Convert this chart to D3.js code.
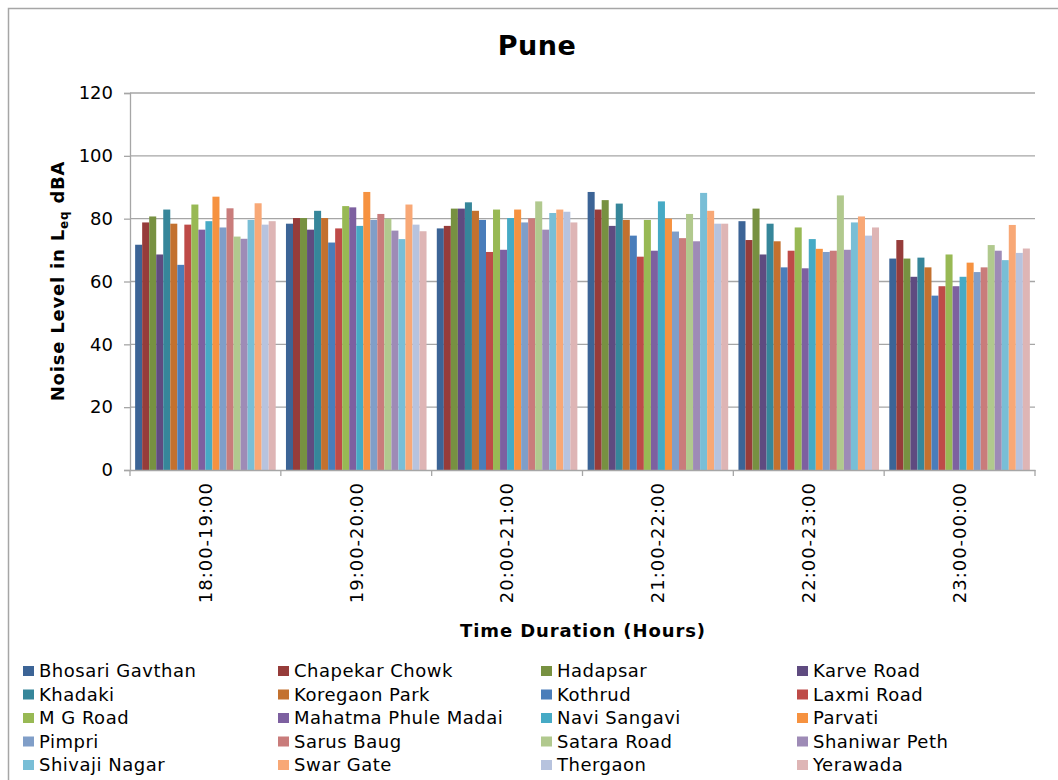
<!DOCTYPE html>
<html>
<head>
<meta charset="utf-8">
<script src="https://cdn.jsdelivr.net/npm/d3@7"></script>
<style>
  body { margin: 0; background: #fff; }
  text { font-family: "DejaVu Sans", Verdana, sans-serif; fill: #000; }
</style>
</head>
<body>
<div id="chart"></div>
<script>
// Data
const periods = ["18:00-19:00", "19:00-20:00", "20:00-21:00", "21:00-22:00", "22:00-23:00", "23:00-00:00"];
const sites = ["Bhosari Gavthan", "Chapekar Chowk", "Hadapsar", "Karve Road", "Khadaki", "Koregaon Park",
  "Kothrud", "Laxmi Road", "M G Road", "Mahatma Phule Madai", "Navi Sangavi", "Parvati",
  "Pimpri", "Sarus Baug", "Satara Road", "Shaniwar Peth", "Shivaji Nagar", "Swar Gate", "Thergaon", "Yerawada"];
const colors = ["#3c6496", "#963c3a", "#779141", "#5f4b80", "#36869a", "#c3712f",
  "#4a7dba", "#be4b48", "#98b954", "#7d60a0", "#46aac5", "#f69240",
  "#809ec8", "#c97c7b", "#b1c98e", "#9e8bb6", "#79bed6", "#f8a876", "#b7c3de", "#deb5b5"];
// one array per time period, in the order of sites
const p1 = [71.7, 78.8, 80.7, 68.6, 82.9, 78.4, 65.3, 78.1, 84.5, 76.5, 79.2, 87.0, 77.2, 83.3, 74.3, 73.6, 79.6, 84.9, 78.1, 79.2];
const p2 = [78.4, 80.2, 80.2, 76.5, 82.5, 80.2, 72.4, 76.9, 84.0, 83.6, 77.7, 88.5, 79.6, 81.5, 80.0, 76.2, 73.5, 84.5, 78.1, 76.0];
const p3 = [76.9, 77.7, 83.2, 83.2, 85.2, 82.5, 79.6, 69.4, 82.9, 70.1, 80.2, 82.9, 78.8, 80.1, 85.5, 76.5, 81.8, 82.9, 82.2, 78.8];
const p4 = [88.5, 82.9, 85.9, 77.7, 84.8, 79.6, 74.6, 67.9, 79.6, 69.8, 85.5, 80.0, 75.9, 73.8, 81.5, 72.8, 88.2, 82.5, 78.4, 78.4];
const p5 = [79.2, 73.2, 83.2, 68.6, 78.4, 72.8, 64.5, 69.8, 77.2, 64.2, 73.5, 70.4, 69.4, 69.8, 87.4, 70.1, 78.8, 80.7, 74.6, 77.2];
const p6 = [67.3, 73.2, 67.3, 61.5, 67.6, 64.5, 55.5, 58.5, 68.6, 58.5, 61.5, 66.0, 63.0, 64.5, 71.6, 69.8, 66.8, 78.0, 69.1, 70.5];
const values = [p1, p2, p3, p4, p5, p6];
const yTicks = [0, 20, 40, 60, 80, 100, 120];

const width = 1058, height = 780;
const plotLeft = 130, plotRight = 1035, plotTop = 93, plotBottom = 470;

const svg = d3.select("#chart").append("svg")
  .attr("width", width)
  .attr("height", height);

// chart border
svg.append("rect")
  .attr("x", 8.5).attr("y", 8.5)
  .attr("width", 1100).attr("height", 900)
  .attr("fill", "none").attr("stroke", "#a6a6a6").attr("stroke-width", 1.5);

// Scales
const x0 = d3.scaleBand().domain(periods).range([plotLeft, plotRight]).paddingInner(0).paddingOuter(0);
const x1 = d3.scaleBand().domain(sites).range([0, x0.bandwidth()]).paddingInner(0).paddingOuter(0.73);
const y = d3.scaleLinear().domain([0, 120]).range([plotBottom, plotTop]);

// Gridlines
svg.append("g")
  .selectAll("line")
  .data(yTicks.slice(1))
  .join("line")
  .attr("x1", plotLeft).attr("x2", plotRight)
  .attr("y1", d => y(d)).attr("y2", d => y(d))
  .attr("stroke", "#a6a6a6").attr("stroke-width", 1.3);

// Bars
svg.append("g")
  .selectAll("g")
  .data(values)
  .join("g")
  .attr("transform", (d, i) => `translate(${x0(periods[i])},0)`)
  .selectAll("rect")
  .data(d => d)
  .join("rect")
  .attr("x", (d, j) => x1(sites[j]))
  .attr("y", d => y(d))
  .attr("width", x1.bandwidth())
  .attr("height", d => y(0) - y(d))
  .attr("fill", (d, j) => colors[j]);

// Y Axis
const yAxis = svg.append("g")
  .attr("transform", `translate(${plotLeft},0)`)
  .call(d3.axisLeft(y).tickValues(yTicks).tickSize(6).tickPadding(11));
yAxis.select(".domain").attr("stroke", "#a6a6a6").attr("stroke-width", 1.3);
yAxis.selectAll(".tick line").attr("stroke", "#a6a6a6").attr("stroke-width", 1.3);
yAxis.selectAll("text").style("font-size", "18px").attr("fill", "#000");

// X Axis
const xAxis = svg.append("g")
  .attr("transform", `translate(0,${plotBottom})`)
  .call(d3.axisBottom(x0).tickSize(0).tickSizeOuter(0));
xAxis.select(".domain").attr("stroke", "#a6a6a6").attr("stroke-width", 1.3);
svg.append("g")
  .selectAll("line")
  .data(periods.concat(["end"]))
  .join("line")
  .attr("x1", (d, i) => i < periods.length ? x0(d) : plotRight)
  .attr("x2", (d, i) => i < periods.length ? x0(d) : plotRight)
  .attr("y1", plotBottom).attr("y2", plotBottom + 6)
  .attr("stroke", "#a6a6a6").attr("stroke-width", 1.3);
xAxis.selectAll("text")
  .style("font-size", "18px")
  .style("letter-spacing", "1px")
  .attr("fill", "#000")
  .attr("transform", "rotate(-90)")
  .attr("x", -12)
  .attr("y", 0)
  .attr("dy", "0.35em")
  .style("text-anchor", "end");

// Title
svg.append("text")
  .attr("x", 537).attr("y", 55)
  .attr("text-anchor", "middle")
  .style("font-size", "27px").style("font-weight", "bold")
  .style("letter-spacing", "0.5px")
  .text("Pune");

// Axis titles
const yt = svg.append("text")
  .attr("transform", `translate(64,281) rotate(-90)`)
  .attr("text-anchor", "middle")
  .style("font-size", "18px").style("font-weight", "bold")
  .style("letter-spacing", "0.8px");
yt.append("tspan").text("Noise Level in L");
yt.append("tspan").attr("dy", 4).style("font-size", "12px").text("eq");
yt.append("tspan").attr("dy", -4).text(" dBA");

svg.append("text")
  .attr("x", 583).attr("y", 637)
  .attr("text-anchor", "middle")
  .style("font-size", "18px").style("font-weight", "bold")
  .style("letter-spacing", "0.9px")
  .text("Time Duration (Hours)");

// Legend
const colX = [23, 278, 541, 797];
const legend = svg.append("g")
  .selectAll("g")
  .data(sites)
  .join("g")
  .attr("transform", (d, i) => `translate(${colX[i % 4]},${671 + Math.floor(i / 4) * 23.5})`);
legend.append("rect")
  .attr("x", 0).attr("y", -5)
  .attr("width", 11).attr("height", 10)
  .attr("fill", (d, i) => colors[i]);
legend.append("text")
  .attr("x", 16).attr("y", 0).attr("dy", "0.35em")
  .style("font-size", "18px").style("letter-spacing", "0.5px")
  .attr("fill", "#222")
  .text(d => d);
</script>
</body>
</html>
